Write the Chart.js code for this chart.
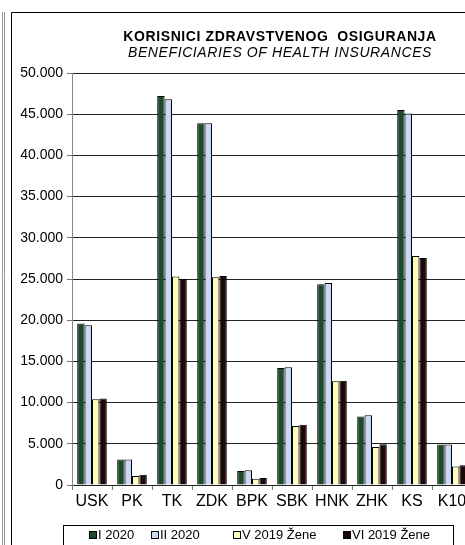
<!DOCTYPE html>
<html>
<head>
<meta charset="utf-8">
<script src="https://cdn.jsdelivr.net/npm/chart.js@4"></script>
<style>
html,body{margin:0;padding:0;background:#fff;overflow:hidden;width:465px;height:545px;}
canvas{display:block;}
</style>
</head>
<body>
<canvas id="c" width="480" height="545" style="width:480px;height:545px"></canvas>
<script>
const titleLine1 = "KORISNICI ZDRAVSTVENOG  OSIGURANJA";
const titleLine2 = "BENEFICIARIES OF HEALTH INSURANCES";
const categories = ["USK","PK","TK","ZDK","BPK","SBK","HNK","ZHK","KS","K10"];
const seriesNames = ["I 2020","II 2020","V 2019 Žene","VI 2019 Žene"];
const i2020  = [19600, 3100, 47200, 43900, 1700, 14200, 24350, 8300, 45500, 4900];
const ii2020 = [19400, 3100, 46800, 43900, 1800, 14300, 24500, 8450, 45100, 4900];
const v2019  = [10400, 1100, 25300, 25200,  750,  7150, 12600, 4600, 27800, 2250];
const vi2019 = [10500, 1250, 25000, 25350,  850,  7300, 12650, 4950, 27550, 2400];
const yTicks = [0,5000,10000,15000,20000,25000,30000,35000,40000,45000,50000];
const colors = ["#1d4a2b","#c9d8f5","#ffffbb","#1c0606"];

function fmt(v){ return String(v).replace(/\B(?=(\d{3})+(?!\d))/g, "."); }

const decor = {
  id: "decor",
  beforeDraw(chart){
    const ctx = chart.ctx;
    ctx.save();
    ctx.fillStyle = "#fff";
    ctx.fillRect(0,0,chart.width,chart.height);
    ctx.strokeStyle = "#999"; ctx.lineWidth = 1;
    ctx.beginPath(); ctx.moveTo(2.5,12); ctx.lineTo(2.5,545); ctx.stroke();
    ctx.beginPath(); ctx.moveTo(4.5,12); ctx.lineTo(4.5,545); ctx.stroke();
    ctx.strokeStyle = "#000";
    ctx.beginPath(); ctx.moveTo(11.5,545); ctx.lineTo(11.5,12.5); ctx.lineTo(480,12.5); ctx.stroke();
    ctx.restore();
  },
  afterDraw(chart){
    const ctx = chart.ctx;
    ctx.save();
    ctx.fillStyle = "#000";
    ctx.textAlign = "center"; ctx.textBaseline = "middle";
    try { ctx.letterSpacing = "0.6px"; } catch(e) {}
    ctx.font = "bold 14px 'Liberation Sans', Arial, sans-serif";
    ctx.fillText(titleLine1, 280, 37);
    ctx.font = "italic 14px 'Liberation Sans', Arial, sans-serif";
    ctx.fillText(titleLine2, 280, 53);
    try { ctx.letterSpacing = "0px"; } catch(e) {}
    // legend
    ctx.strokeStyle = "#000"; ctx.lineWidth = 1;
    ctx.strokeRect(63.5, 525.5, 390, 22);
    const mx = [89, 151, 233, 343];
    ctx.font = "13px 'Liberation Sans', Arial, sans-serif";
    ctx.textAlign = "left";
    chart.data.datasets.forEach((ds, i) => {
      ctx.fillStyle = ds.backgroundColor;
      ctx.fillRect(mx[i]+0.5, 531.5, 7, 7);
      ctx.strokeStyle = "#000";
      ctx.strokeRect(mx[i]+0.5, 531.5, 7, 7);
      ctx.fillStyle = "#000";
      ctx.fillText(ds.label, mx[i]+9, 535.5);
    });
    ctx.restore();
  }
};

const series = [i2020, ii2020, v2019, vi2019];
new Chart(document.getElementById("c"), {
  type: "bar",
  data: {
    labels: categories,
    datasets: series.map((d, i) => ({
      label: seriesNames[i],
      data: d,
      backgroundColor: colors[i],
      borderColor: "#000",
      borderWidth: 1,
      categoryPercentage: 0.74,
      barPercentage: 1.0
    }))
  },
  options: {
    responsive: false,
    animation: false,
    layout: { padding: { top: 73, left: 0, right: 8, bottom: 0 } },
    plugins: { legend: { display: false }, title: { display: false }, tooltip: { enabled: false } },
    scales: {
      x: {
        grid: { display: true, drawOnChartArea: false, drawTicks: true, tickLength: 5, tickColor: "#777", offset: true },
        border: { display: true, color: "#222", width: 1 },
        ticks: { color: "#000", font: { family: "'Liberation Sans', Arial, sans-serif", size: 16 }, padding: 2, maxRotation: 0, autoSkip: false },
        afterFit(s){ s.height = 60; }
      },
      y: {
        min: 0, max: 50000,
        afterBuildTicks(s){ s.ticks = yTicks.map(v => ({ value: v })); },
        grid: { color: "#222", lineWidth: 1, drawTicks: true, tickLength: 5, tickColor: "#777" },
        border: { display: true, color: "#888", width: 1 },
        ticks: { color: "#000", font: { family: "'Liberation Sans', Arial, sans-serif", size: 14 }, padding: 4, callback: v => fmt(v) },
        afterFit(s){ s.width = 72; }
      }
    }
  },
  plugins: [decor]
});
</script>
</body>
</html>
